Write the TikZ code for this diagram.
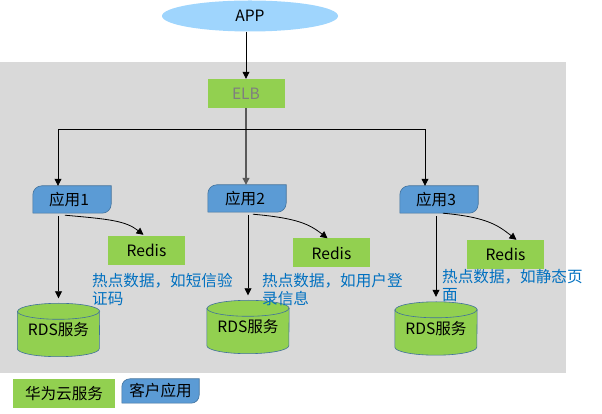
\documentclass[tikz,border=0pt]{standalone}
\usepackage{fontspec}
\setmainfont{Noto Sans CJK SC}
\usetikzlibrary{arrows.meta,calc,shapes.geometric}
\definecolor{bggray}{HTML}{D9D9D9}
\definecolor{hwgreen}{HTML}{92D050}
\definecolor{appblue}{HTML}{5B9BD5}
\definecolor{appedge}{HTML}{41719C}
\definecolor{skyblue}{HTML}{9FD5FD}
\definecolor{noteblue}{HTML}{0070C0}
\definecolor{elbgray}{HTML}{7F7F7F}
\pgfdeclarelayer{bg}\pgfdeclarelayer{shp}\pgfsetlayers{bg,shp,main}
\newcommand\appshape[2]{%
\begin{pgfonlayer}{shp}
\draw[appfill] (#1.south west) -- ([yshift=-#2]#1.north west) arc[start angle=180,end angle=90,radius=#2] -- (#1.north east) -- ([yshift=#2]#1.south east) arc[start angle=0,end angle=-90,radius=#2] -- cycle;
\end{pgfonlayer}}
\newcommand\cylshape[1]{%
\begin{pgfonlayer}{shp}
\draw[cylfill] ([yshift=-8pt]#1.north west) -- ([yshift=8pt]#1.south west) arc[start angle=180,end angle=360,x radius=41pt,y radius=8pt] -- ([yshift=-8pt]#1.north east) arc[start angle=0,end angle=180,x radius=41pt,y radius=8pt] -- cycle;
\draw[cylfill,fill=none] ([yshift=-8pt]#1.north west) arc[start angle=180,end angle=360,x radius=41pt,y radius=8pt];
\end{pgfonlayer}}
\begin{document}
\begin{tikzpicture}[x=1pt,y=1pt,
  txt/.style={font=\fontsize{15.6}{18}\selectfont},
  greenbox/.style={txt, fill=hwgreen, minimum width=77pt, minimum height=29pt, inner sep=0pt},
  appnode/.style={txt, minimum width=78pt, minimum height=27pt, inner sep=0pt},
  rdsnode/.style={txt, minimum width=82pt, minimum height=53pt, inner sep=0pt},
  note/.style={txt, text=noteblue, align=left, anchor=north west, inner sep=0pt},
  arr/.style={-{Triangle[length=7pt,width=7pt]}, line width=0.8pt},
  appfill/.style={fill=appblue, draw=appedge, line width=0.6pt},
  cylfill/.style={fill=hwgreen, draw=appedge, line width=0.6pt}]
\useasboundingbox (0,0) rectangle (602,414);
\begin{pgfonlayer}{bg}
\fill[bggray] (0,41) rectangle (566,352);
\end{pgfonlayer}

\node[txt, ellipse, fill=skyblue, minimum width=176pt, minimum height=31pt, inner sep=0pt] (app) at (250,398) {APP};
\node[greenbox, text=elbgray] (elb) at (246,320.5) {ELB};

\node[appnode] (a1) at (72,214.5) {应用1\hspace*{6pt}};
\node[appnode] (a2) at (247,215.5) {应用2\hspace*{4pt}};
\node[appnode] (a3) at (439,214.5) {应用3\hspace*{6pt}};
\appshape{a1}{9pt}\appshape{a2}{9pt}\appshape{a3}{9pt}

\node[greenbox] (r1) at (146.5,163.5) {Redis};
\node[greenbox] (r2) at (331.5,161) {Redis};
\node[greenbox] (r3) at (505.5,159.5) {Redis};

\node[rdsnode] (d1) at (58.5,84) {RDS服务};
\node[rdsnode] (d2) at (248,87) {RDS服务};
\node[rdsnode] (d3) at (436,85.5) {RDS服务};
\cylshape{d1}\cylshape{d2}\cylshape{d3}

\node[note] (n1) at (92,141) {热点数据，如短信验\\证码};
\node[note] (n2) at (262,141) {热点数据，如用户登\\录信息};
\node[note] (n3) at (442,145) {热点数据，如静态页\\面};

\node[greenbox, minimum width=102pt] (lg1) at (64,20.5) {华为云服务};
\node[appnode, minimum width=77pt, minimum height=24pt] (lg2) at (160.5,23) {客户应用};
\appshape{lg2}{8pt}

\coordinate (hy) at (0,285);
\coordinate (hub) at (elb.south |- hy);
\draw[arr] (elb.north |- app.south) -- (elb.north);
\draw[arr, draw=gray!70!black, line width=1.2pt] (elb.south) -- (elb.south |- a2.north);
\draw[arr] (hub) -| ([xshift=-14pt]a1.north);
\draw[arr] (hub) -| ([xshift=-14pt]a3.north);

\draw[arr] ($(a1.south -| d1.north)+(0,-3)$) -- ($(d1.north)+(0,5)$);
\draw[arr] ($(a2.south -| d2.north)+(0,-3)$) -- ($(d2.north)+(0,5)$);
\draw[arr] ($(a3.south -| d3.north)+(0,-3)$) -- ($(d3.north)+(0,5)$);

\draw[arr] ($(a1.south west)+(32,-2)$) .. controls +(45,-4) and +(-18,14) .. ($(r1.north)+(-3,1)$);
\draw[arr] ($(a2.south west)+(45,-2)$) .. controls +(45,-4) and +(-18,14) .. ($(r2.north)+(-4,0)$);
\draw[arr] ($(a3.south west)+(43,0)$) .. controls +(45,-4) and +(-18,14) .. ($(r3.north)+(11,0)$);
\end{tikzpicture}
\end{document}
